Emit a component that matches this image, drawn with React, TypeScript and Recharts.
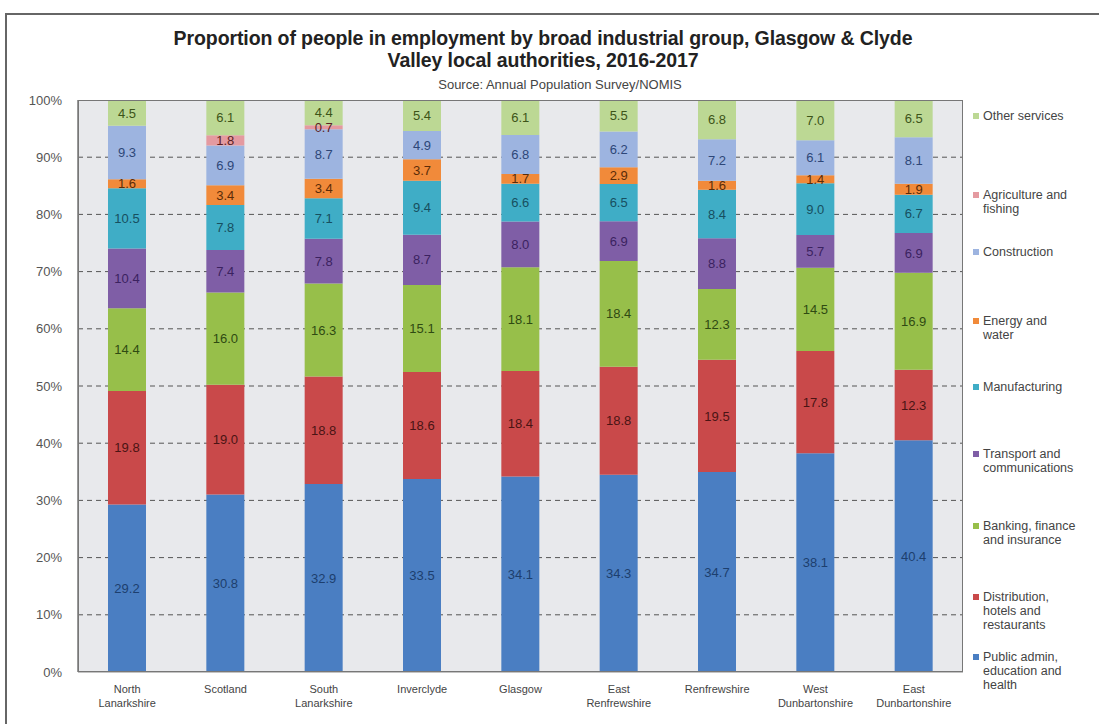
import { BarChart, Bar, XAxis, YAxis, CartesianGrid, LabelList } from "recharts";

const areas = [
  "North\nLanarkshire",
  "Scotland",
  "South\nLanarkshire",
  "Inverclyde",
  "Glasgow",
  "East\nRenfrewshire",
  "Renfrewshire",
  "West\nDunbartonshire",
  "East\nDunbartonshire",
];

// bottom to top
const publicAdmin = [29.2, 30.8, 32.9, 33.5, 34.1, 34.3, 34.7, 38.1, 40.4];
const distribution = [19.8, 19.0, 18.8, 18.6, 18.4, 18.8, 19.5, 17.8, 12.3];
const banking = [14.4, 16.0, 16.3, 15.1, 18.1, 18.4, 12.3, 14.5, 16.9];
const transport = [10.4, 7.4, 7.8, 8.7, 8.0, 6.9, 8.8, 5.7, 6.9];
const manufacturing = [10.5, 7.8, 7.1, 9.4, 6.6, 6.5, 8.4, 9.0, 6.7];
const energy = [1.6, 3.4, 3.4, 3.7, 1.7, 2.9, 1.6, 1.4, 1.9];
const construction = [9.3, 6.9, 8.7, 4.9, 6.8, 6.2, 7.2, 6.1, 8.1];
const agriculture = [null, 1.8, 0.7, null, null, null, null, null, null];
const otherServices = [4.5, 6.1, 4.4, 5.4, 6.1, 5.5, 6.8, 7.0, 6.5];

const yTicks = [0, 0.1, 0.2, 0.3, 0.4, 0.5, 0.6, 0.7, 0.8, 0.9, 1];

const series = [
  { key: "public", name: "Public admin,\neducation and\nhealth", values: publicAdmin, color: "#4a7ec2", text: "#1d3f6e" },
  { key: "dist", name: "Distribution,\nhotels and\nrestaurants", values: distribution, color: "#c9494a", text: "#4a1414" },
  { key: "bank", name: "Banking, finance\nand insurance", values: banking, color: "#97bf4a", text: "#2f4a12" },
  { key: "trans", name: "Transport and\ncommunications", values: transport, color: "#7f5ea6", text: "#3b2260" },
  { key: "manu", name: "Manufacturing", values: manufacturing, color: "#3fadc6", text: "#174f60" },
  { key: "energy", name: "Energy and\nwater", values: energy, color: "#f18a3a", text: "#5c2c08" },
  { key: "cons", name: "Construction", values: construction, color: "#9db4e0", text: "#2e4778" },
  { key: "agri", name: "Agriculture and\nfishing", values: agriculture, color: "#e49aa0", text: "#5c1e24" },
  { key: "other", name: "Other services", values: otherServices, color: "#bcd894", text: "#3d5418" },
];

const legendTops = [658, 598, 527, 455, 388, 322, 253, 196, 117];

const data = areas.map((area, i) => {
  const row: Record<string, any> = { area };
  series.forEach((s) => {
    row[s.key] = s.values[i];
  });
  return row;
});

const font = "'Liberation Sans', Arial, sans-serif";

function AreaTick(props: any) {
  const { x, y, payload } = props;
  const lines = String(payload.value).split("\n");
  return (
    <text x={x} y={y + 13} textAnchor="middle" fontSize={11} fill="#444" fontFamily={font}>
      {lines.map((l, i) => (
        <tspan key={i} x={x} dy={i === 0 ? 0 : 14}>
          {l}
        </tspan>
      ))}
    </text>
  );
}

export default function App() {
  return (
    <div style={{ position: "absolute", left: 0, top: 0, width: 1099, height: 724, background: "#fff", fontFamily: font, overflow: "hidden" }}>
      <div style={{ position: "absolute", left: 5, top: 13, width: 1110, height: 730, border: "2px solid #666", boxSizing: "border-box" }} />
      <div style={{ position: "absolute", left: 0, width: 1086, top: 27, textAlign: "center", fontWeight: "bold", fontSize: 19.5, lineHeight: "22px", color: "#222", letterSpacing: -0.1 }}>
        Proportion of people in employment by broad industrial group, Glasgow &amp; Clyde
        <br />
        Valley local authorities, 2016-2017
      </div>
      <div style={{ position: "absolute", left: 0, width: 1120, top: 77, textAlign: "center", fontSize: 13, color: "#444" }}>
        Source: Annual Population Survey/NOMIS
      </div>
      <div style={{ position: "absolute", left: 0, top: 0 }}>
        <BarChart
          width={1099}
          height={724}
          data={data}
          stackOffset="expand"
          barSize={38}
          margin={{ top: 100, right: 136, bottom: 12, left: 8 }}
        >
          <CartesianGrid vertical={false} fill="#e8e9ec" stroke="#555" strokeDasharray="5 4" horizontalValues={[0.1, 0.2, 0.3, 0.4, 0.5, 0.6, 0.7, 0.8, 0.9]} />
          <XAxis dataKey="area" tick={<AreaTick />} tickLine={false} axisLine={{ stroke: "#888" }} height={40} interval={0} />
          <YAxis
            type="number"
            domain={[0, 1]}
            ticks={yTicks}
            tickFormatter={(v: number) => `${Math.round(v * 100)}%`}
            tick={{ fontSize: 13, fill: "#555", fontFamily: font, dx: -8 }}
            tickLine={false}
            axisLine={{ stroke: "#777", strokeWidth: 1.5 }}
            width={70}
          />
          {series.map((s) => (
            <Bar key={s.key} dataKey={s.key} stackId="a" fill={s.color} isAnimationActive={false}>
              <LabelList
                dataKey={s.key}
                position="center"
                formatter={(v: any) => (v == null ? "" : Number(v).toFixed(1))}
                style={{ fontSize: 13, fill: s.text, fontFamily: font }}
              />
            </Bar>
          ))}
        </BarChart>
      </div>
      <div style={{ position: "absolute", left: 78, top: 100, width: 885, height: 572, border: "1.5px solid #777", boxSizing: "border-box", pointerEvents: "none" }} />
      {series.map((s, i) => (
        <div key={s.key} style={{ position: "absolute", left: 973, top: legendTops[i] - 8, fontSize: 12.5, lineHeight: "14px", color: "#444", whiteSpace: "pre" }}>
          <span style={{ position: "absolute", left: 0, top: 4, width: 6, height: 6, background: s.color }} />
          <div style={{ paddingLeft: 10 }}>{s.name}</div>
        </div>
      ))}
    </div>
  );
}
